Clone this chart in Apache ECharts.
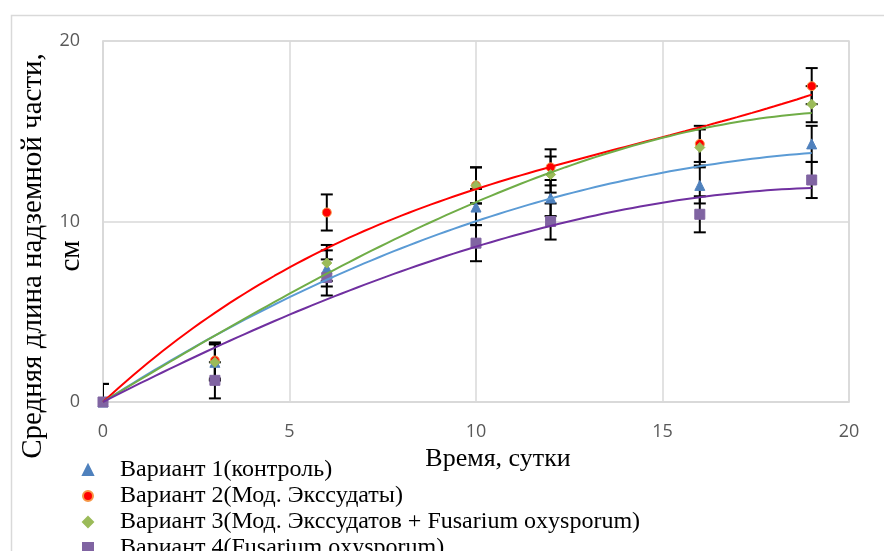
<!DOCTYPE html>
<html>
<head>
<meta charset="utf-8">
<script src="https://cdn.jsdelivr.net/npm/echarts@6/dist/echarts.min.js"></script>
<style>
  html, body { margin: 0; padding: 0; background: #fff; }
  #chart { width: 884px; height: 551px; }
</style>
</head>
<body>
<div id="chart"></div>
<script>
// Sampling days
const days = [0, 3, 6, 10, 12, 16, 19];

// Mean above-ground length, cm
const variant1 = [0, 2.2, 7.4, 10.8, 11.3, 12.0, 14.3];
const variant2 = [0, 2.3, 10.5, 12.0, 13.0, 14.3, 17.5];
const variant3 = [0, 2.2, 7.7, 12.0, 12.6, 14.1, 16.5];
const variant4 = [0, 1.2, 6.9, 8.8, 10.0, 10.4, 12.3];

// Error bar half-widths (fixed value)
const err1 = [1, 1, 1, 1, 1, 1, 1];
const err2 = [1, 1, 1, 1, 1, 1, 1];
const err3 = [1, 1, 1, 1, 1, 1, 1];
const err4 = [1, 1, 1, 1, 1, 1, 1];

const seriesNames = [
  'Вариант 1(контроль)',
  'Вариант 2(Мод. Экссудаты)',
  'Вариант 3(Мод. Экссудатов + Fusarium oxysporum)',
  'Вариант 4(Fusarium oxysporum)'
];

const xTicks = [0, 5, 10, 15, 20];
const yTicks = [0, 10, 20];
const yTitle = 'Средняя длина надземной части,\nсм';
const xTitle = 'Время, сутки';

const markerColors = ['#4F81BD', '#FF0000', '#9BBB59', '#8064A2'];
const markerBorders = ['#4F81BD', '#F79646', '#9BBB59', '#8064A2'];
const lineColors = ['#5B9BD5', '#FF0000', '#70AD47', '#7030A0'];
const symbols = ['triangle', 'circle', 'diamond', 'rect'];
const symbolSizes = [10, 9, 10, 10];

// Least-squares polynomial y = a1 x + a2 x^2 + a3 x^3 (intercept fixed at 0)
function fitThroughOrigin(xs, ys, degree) {
  const n = degree;
  const A = [];
  const b = [];
  for (let i = 1; i <= n; i++) {
    const row = [];
    for (let j = 1; j <= n; j++) {
      let s = 0;
      xs.forEach(x => { s += Math.pow(x, i + j); });
      row.push(s);
    }
    A.push(row);
    let r = 0;
    xs.forEach((x, k) => { r += ys[k] * Math.pow(x, i); });
    b.push(r);
  }
  // Gaussian elimination
  for (let c = 0; c < n; c++) {
    let p = c;
    for (let r = c + 1; r < n; r++) if (Math.abs(A[r][c]) > Math.abs(A[p][c])) p = r;
    [A[c], A[p]] = [A[p], A[c]];
    [b[c], b[p]] = [b[p], b[c]];
    for (let r = c + 1; r < n; r++) {
      const f = A[r][c] / A[c][c];
      for (let k = c; k < n; k++) A[r][k] -= f * A[c][k];
      b[r] -= f * b[c];
    }
  }
  const coef = new Array(n).fill(0);
  for (let r = n - 1; r >= 0; r--) {
    let s = b[r];
    for (let k = r + 1; k < n; k++) s -= A[r][k] * coef[k];
    coef[r] = s / A[r][r];
  }
  return x => coef.reduce((acc, c, i) => acc + c * Math.pow(x, i + 1), 0);
}

function trendData(ys) {
  const f = fitThroughOrigin(days, ys, 3);
  const out = [];
  const xEnd = days[days.length - 1];
  for (let x = 0; x <= xEnd + 1e-9; x += 0.2) out.push([x, f(x)]);
  return out;
}

const allY = [variant1, variant2, variant3, variant4];
const allErr = [err1, err2, err3, err4];

function errorBarSeries(idx) {
  const data = days.map((d, i) => [d, allY[idx][i], allErr[idx][i]]);
  return {
    type: 'custom',
    name: seriesNames[idx] + ' err',
    clip: true,
    z: 2,
    silent: true,
    renderItem: function (params, api) {
      const x = api.value(0), y = api.value(1), e = api.value(2);
      const top = api.coord([x, y + e]);
      const bot = api.coord([x, y - e]);
      const half = 6;
      const st = { stroke: '#000', lineWidth: 2 };
      return {
        type: 'group',
        children: [
          { type: 'line', shape: { x1: top[0], y1: top[1], x2: bot[0], y2: bot[1] }, style: st },
          { type: 'line', shape: { x1: top[0] - half, y1: top[1], x2: top[0] + half, y2: top[1] }, style: st },
          { type: 'line', shape: { x1: bot[0] - half, y1: bot[1], x2: bot[0] + half, y2: bot[1] }, style: st }
        ]
      };
    },
    encode: { x: 0, y: 1 },
    data: data
  };
}

function scatterSeries(idx) {
  return {
    type: 'scatter',
    name: seriesNames[idx],
    symbol: symbols[idx],
    symbolSize: symbolSizes[idx],
    clip: false,
    z: 3,
    itemStyle: {
      color: markerColors[idx],
      borderColor: markerBorders[idx],
      borderWidth: 1,
      opacity: 1
    },
    data: days.map((d, i) => [d, allY[idx][i]])
  };
}

function trendSeries(idx) {
  return {
    type: 'line',
    name: seriesNames[idx] + ' trend',
    showSymbol: false,
    smooth: false,
    silent: true,
    z: 4,
    lineStyle: { color: lineColors[idx], width: 2 },
    data: trendData(allY[idx])
  };
}

const series = [];
for (let i = 0; i < 4; i++) {
  series.push(errorBarSeries(i));
  series.push(scatterSeries(i));
}
for (let i = 0; i < 4; i++) series.push(trendSeries(i));

const chart = echarts.init(document.getElementById('chart'), null, { renderer: 'canvas' });
chart.setOption({
  animation: false,
  backgroundColor: '#fff',
  graphic: [{
    type: 'rect',
    left: 9, top: 13,
    shape: { width: 900, height: 600 },
    style: { fill: 'none', stroke: '#d9d9d9', lineWidth: 1.5 },
    silent: true
  }, {
    // vertical title of the value axis
    type: 'text',
    x: 52, y: 256,
    rotation: Math.PI / 2,
    silent: true,
    style: {
      text: yTitle,
      fontFamily: 'Liberation Serif', fontSize: 29, fill: '#000',
      lineHeight: 38, align: 'center', verticalAlign: 'middle'
    }
  }],
  grid: {
    left: 103, right: 35, top: 41, bottom: 149,
    show: true, borderColor: '#d9d9d9', borderWidth: 1.5,
    containLabel: false,
    outerBoundsMode: 'none'
  },
  legend: {
    orient: 'vertical',
    left: 77, top: 452,
    height: 200,
    itemWidth: 10, itemHeight: 10,
    itemGap: 0,
    data: seriesNames,
    selectedMode: false,
    textStyle: {
      fontFamily: 'Liberation Serif', fontSize: 24, color: '#000',
      lineHeight: 26, padding: [0, 0, 0, 22]
    }
  },
  xAxis: {
    type: 'value',
    min: xTicks[0], max: xTicks[xTicks.length - 1], interval: 5,
    name: xTitle,
    nameLocation: 'middle',
    nameGap: 44,
    nameTextStyle: { fontFamily: 'Liberation Serif', fontSize: 26, color: '#000', padding: [0, 0, 0, 44] },
    axisLine: { show: true, lineStyle: { color: '#d9d9d9', width: 1.5 } },
    axisTick: { show: false },
    axisLabel: { color: '#595959', fontFamily: 'Open Sans', fontSize: 18, margin: 21 },
    splitLine: { show: true, lineStyle: { color: '#d9d9d9', width: 1.5 } }
  },
  yAxis: {
    type: 'value',
    min: yTicks[0], max: yTicks[yTicks.length - 1], interval: 10,
    axisLine: { show: true, lineStyle: { color: '#d9d9d9', width: 1.5 } },
    axisTick: { show: false },
    axisLabel: { color: '#595959', fontFamily: 'Open Sans', fontSize: 18, margin: 23 },
    splitLine: { show: true, lineStyle: { color: '#d9d9d9', width: 1.5 } }
  },
  series: series
});
</script>
</body>
</html>
